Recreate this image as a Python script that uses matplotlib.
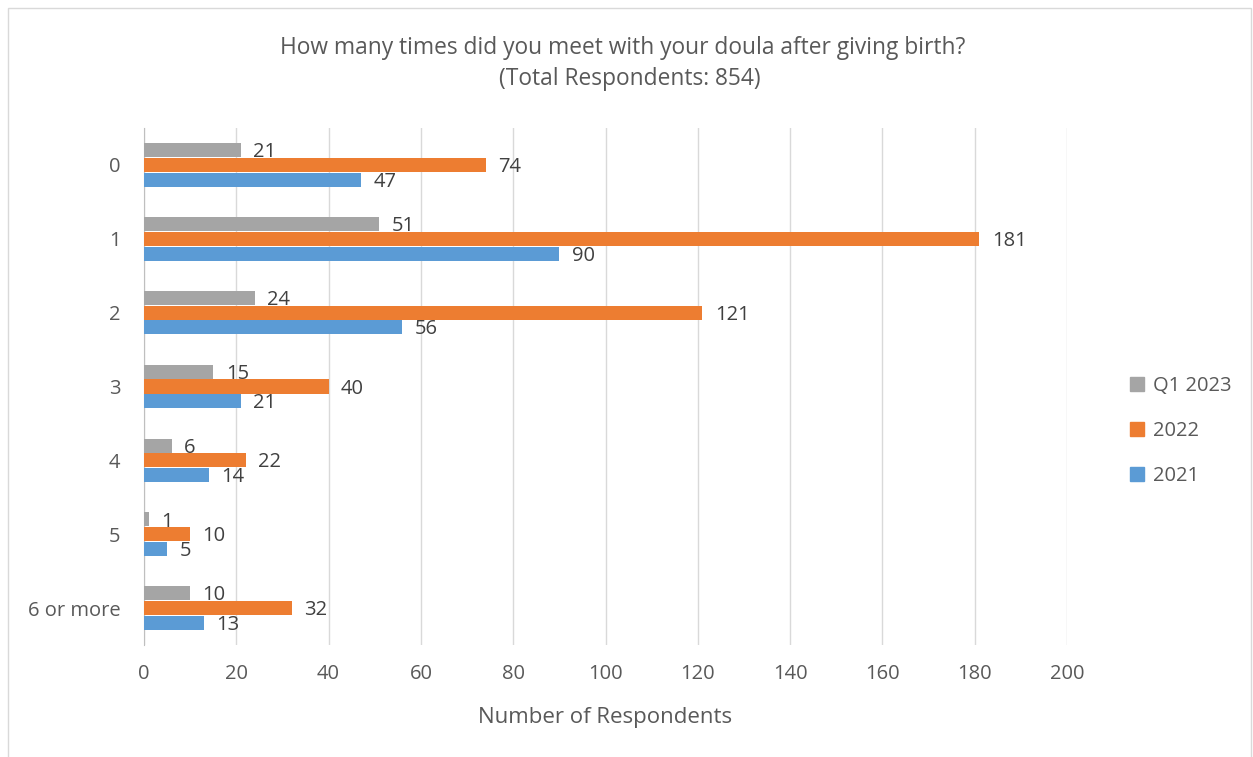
import matplotlib
matplotlib.use("Agg")
import matplotlib.pyplot as plt
from matplotlib.patches import Rectangle, Patch
import numpy as np

categories = ["0", "1", "2", "3", "4", "5", "6 or more"]
q1_2023 = [21, 51, 24, 15, 6, 1, 10]
y2022 = [74, 181, 121, 40, 22, 10, 32]
y2021 = [47, 90, 56, 21, 14, 5, 13]
xticks = [0, 20, 40, 60, 80, 100, 120, 140, 160, 180, 200]

plt.rcParams['font.family'] = ['Open Sans', 'DejaVu Sans']
txt = '#595959'
c_gray, c_orange, c_blue = '#A5A5A5', '#ED7D31', '#5B9BD5'

fig = plt.figure(figsize=(12.53, 7.57), dpi=100)
W, H = 1253, 757
ax = fig.add_axes([144 / W, 1 - 645 / H, 923 / W, (645 - 128) / H])

y = np.arange(len(categories))
bh = 0.19
off = 0.2
series = [(q1_2023, c_gray, 'Q1 2023', -off), (y2022, c_orange, '2022', 0), (y2021, c_blue, '2021', off)]
for vals, col, lab, o in series:
    bars = ax.barh(y + o, vals, height=bh, color=col, label=lab, zorder=3)
    for b, v in zip(bars, vals):
        ax.annotate(str(v), (b.get_width(), b.get_y() + b.get_height() / 2),
                    xytext=(9, -1.5), textcoords='offset points', va='center', ha='left',
                    fontsize=14.5, color='#404040')

ax.set_xlim(0, 200)
ax.set_ylim(6.5, -0.5)
ax.set_xticks(xticks)
ax.set_yticks(y)
ax.set_yticklabels(categories)
ax.tick_params(axis='both', length=0, labelsize=14.5, colors=txt)
ax.tick_params(axis='x', pad=14)
ax.tick_params(axis='y', pad=17)
ax.grid(axis='x', color='#D9D9D9', linewidth=1, zorder=0)
for s in ['top', 'right', 'bottom']:
    ax.spines[s].set_visible(False)
ax.spines['left'].set_color('#BFBFBF')
ax.set_xlabel("Number of Respondents", fontsize=16, color=txt, labelpad=16)

fig.text(623 / W, 1 - 48 / H, "How many times did you meet with your doula after giving birth?",
         ha='center', va='center', fontsize=16.4, color=txt)
fig.text(630 / W, 1 - 79 / H, "(Total Respondents: 854)",
         ha='center', va='center', fontsize=16.4, color=txt)

handles = [Patch(color=c_gray), Patch(color=c_orange), Patch(color=c_blue)]
fig.legend(handles, ['Q1 2023', '2022', '2021'], loc='center left',
           bbox_to_anchor=(1112 / W, 1 - 431 / H), frameon=False, fontsize=14.5,
           handlelength=0.7, handleheight=0.7, handletextpad=0.45, labelspacing=1.25,
           labelcolor=txt)

fig.add_artist(Rectangle((8 / W, -0.01), (1251 - 8) / W, 1 - 8 / H + 0.01,
                         transform=fig.transFigure, fill=False, edgecolor='#D9D9D9', linewidth=1))

fig.savefig("out.png", dpi=100)
